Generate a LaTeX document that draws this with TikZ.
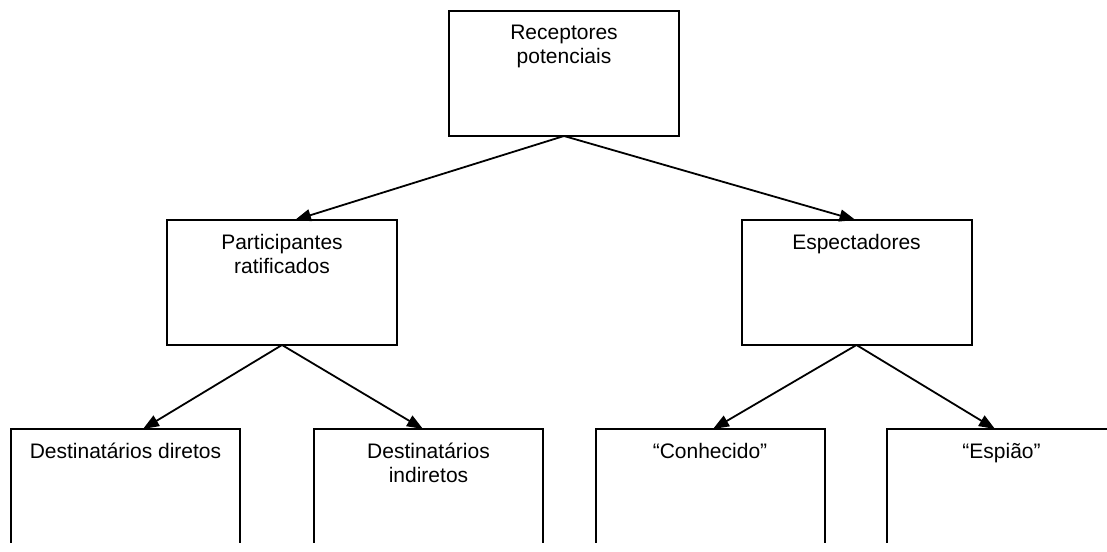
\documentclass[tikz,border=0pt]{standalone}
\usepackage{fontspec}
\setmainfont{Liberation Sans}
\usetikzlibrary{arrows.meta}
\begin{document}
\begin{tikzpicture}[x=1pt,y=-1pt,
  box/.style={draw=black, line width=2pt, minimum width=230pt, minimum height=125pt, inner sep=0pt, outer sep=0pt},
  lowbox/.style={draw=black, line width=2pt, minimum width=229pt, minimum height=200pt, inner sep=0pt, outer sep=0pt},
  txt/.style={anchor=north, inner sep=0pt, align=center, font=\fontsize{21}{24}\selectfont},
  conn/.style={line width=1.8pt, -{Triangle[length=16pt,width=12pt]}}]
\useasboundingbox (0,0) rectangle (1107,551);
\fill[white] (0,0) rectangle (1107,551);
\begin{scope}
\clip (0,0) rectangle (1107,542);
\node[box] (rp) at (564,73.5) {};
\node[box] (pr) at (282,282.5) {};
\node[box] (es) at (856.5,282.5) {};
\node[lowbox] (dd) at (125.5,529) {};
\node[lowbox] (di) at (428.5,529) {};
\node[lowbox] (co) at (710,529) {};
\node[lowbox] (sp) at (1001.5,529) {};
\end{scope}
\node[txt] (trp) at ([yshift=-14pt]rp.north) {Receptores\\potenciais};
\node[txt] (tpr) at ([yshift=-14pt]pr.north) {Participantes\\ratificados};
\node[txt] (tes) at ([yshift=-14pt]es.north) {Espectadores};
\node[txt] (tdd) at ([yshift=-14pt]dd.north) {Destinatários diretos};
\node[txt] (tdi) at ([yshift=-14pt]di.north) {Destinatários\\indiretos};
\node[txt] (tco) at ([yshift=-14pt]co.north) {“Conhecido”};
\node[txt] (tsp) at ([yshift=-14pt]sp.north) {“Espião”};
\draw[conn] (rp.south) -- ([xshift=13pt]pr.north);
\draw[conn] (rp.south) -- ([xshift=-1pt]es.north);
\draw[conn] (pr.south) -- ([xshift=17.5pt]dd.north);
\draw[conn] (pr.south) -- ([xshift=-5.5pt]di.north);
\draw[conn] (es.south) -- ([xshift=3pt]co.north);
\draw[conn] (es.south) -- ([xshift=-6.5pt]sp.north);
\end{tikzpicture}
\end{document}
